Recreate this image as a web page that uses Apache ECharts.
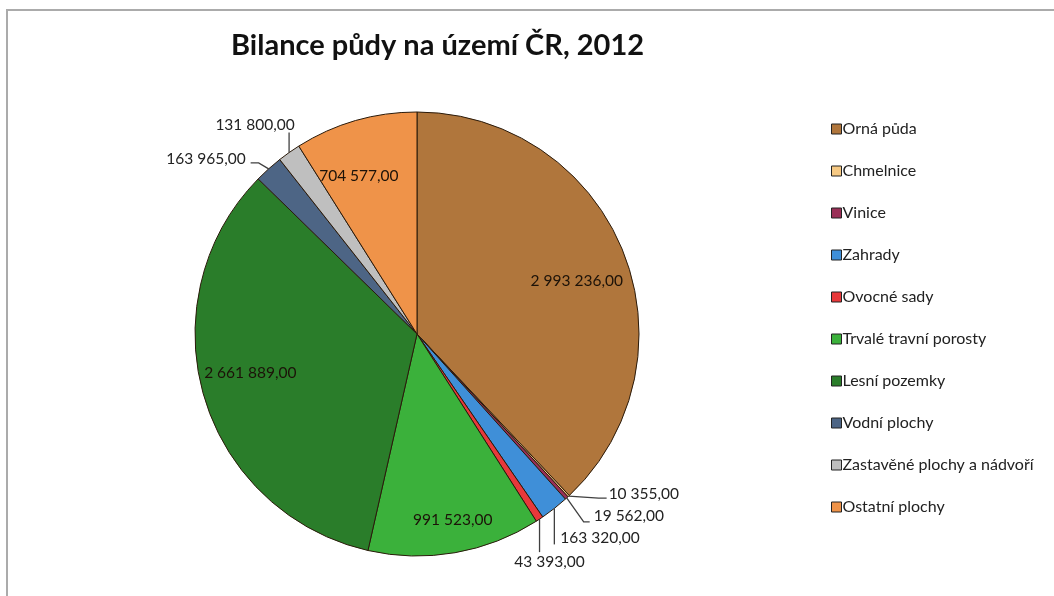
<!DOCTYPE html>
<html>
<head>
<meta charset="utf-8">
<script src="https://cdn.jsdelivr.net/npm/echarts@6/dist/echarts.min.js"></script>
<style>
  html, body { margin: 0; padding: 0; background: #fff; }
  #chart { width: 1054px; height: 596px; }
  #frame {
    position: absolute; left: 6px; top: 9px; width: 1100px; height: 640px;
    border-left: 2px solid #ababab; border-top: 2px solid #ababab;
    pointer-events: none;
  }
</style>
</head>
<body>
<div id="chart"></div>
<div id="frame"></div>
<script>
// Bilance půdy na území ČR, 2012 (ha)
const categories = [
  'Orná půda', 'Chmelnice', 'Vinice', 'Zahrady', 'Ovocné sady',
  'Trvalé travní porosty', 'Lesní pozemky', 'Vodní plochy',
  'Zastavěné plochy a nádvoří', 'Ostatní plochy'
];
const values = [2993236, 10355, 19562, 163320, 43393, 991523, 2661889, 163965, 131800, 704577];
const colors = ['#b0763c', '#f6c983', '#9a2f57', '#3f8fd8', '#e8383a', '#3bb13b', '#2a7d2a', '#4d6585', '#bfbfbf', '#ef9349'];

const CX = 417, CY = 334, R = 222;

// label placement, Excel style
// inside: [radius ratio, dx, dy]
const insideSpots = {
  0: [0.75, 5, 8],
  5: [0.86, 3, -2],
  6: [0.75, -7, -8],
  9: [0.75, -12, 2]
};
// outside: leader line bends (offsets from slice edge), label anchor offset, align
const outsideSpots = {
  1: { line: [[30, 2], [38, 2]], label: [40, -2], align: 'left' },
  2: { line: [[17, 24], [23, 24]], label: [27, 18], align: 'left' },
  3: { line: [[0, 36]], label: [6, 30], align: 'left' },
  4: { line: [[0, 33]], label: [10, 43], align: 'center' },
  7: { line: [[-10, -6], [-18, -6]], label: [-23, -10], align: 'right' },
  8: { line: [[0, -20]], label: [-34, -28], align: 'center' }
};

const total = values.reduce((a, b) => a + b, 0);
const midAngles = [];
let acc = 0;
values.forEach(v => {
  midAngles.push((acc + v / 2) / total * 2 * Math.PI);
  acc += v;
});
const pointAt = (i, ratio) => [
  CX + R * ratio * Math.sin(midAngles[i]),
  CY - R * ratio * Math.cos(midAngles[i])
];

const fmt = v => {
  const s = String(Math.round(v));
  return s.replace(/\B(?=(\d{3})+(?!\d))/g, '\u00a0') + ',00';
};

const chart = echarts.init(document.getElementById('chart'));

chart.setOption({
  animation: false,
  title: {
    text: 'Bilance půdy na území ČR, 2012',
    left: 226,
    top: 26,
    textStyle: { fontFamily: 'Lato', fontWeight: 'bold', fontSize: 29, color: '#111' }
  },
  legend: {
    orient: 'vertical',
    left: 826,
    top: 116,
    itemWidth: 10,
    itemHeight: 10,
    itemGap: 26,
    icon: 'rect',
    itemStyle: { borderColor: '#222', borderWidth: 1 },
    textStyle: { fontFamily: 'Lato', fontSize: 16, lineHeight: 16, color: '#222', padding: [0, 0, 0, -4] },
    data: categories
  },
  series: [{
    type: 'pie',
    center: [CX, CY],
    radius: R,
    startAngle: 90,
    clockwise: true,
    avoidLabelOverlap: false,
    itemStyle: { borderColor: '#2a1a0a', borderWidth: 1 },
    label: {
      position: 'outside',
      fontFamily: 'Lato',
      fontSize: 15.5,
      color: '#222',
      formatter: p => fmt(p.value)
    },
    labelLine: { show: true, length: 10, length2: 6, lineStyle: { color: '#404040', width: 1.3 } },
    labelLayout: p => {
      const i = p.dataIndex;
      if (insideSpots[i]) {
        const s = insideSpots[i];
        const pt = pointAt(i, s[0]);
        return { x: pt[0] + s[1], y: pt[1] + s[2], align: 'center', verticalAlign: 'middle' };
      }
      const o = outsideSpots[i];
      if (!o) return {};
      const e = pointAt(i, 1);
      const pts = [e].concat(o.line.map(d => [e[0] + d[0], e[1] + d[1]]));
      return {
        x: e[0] + o.label[0],
        y: e[1] + o.label[1],
        align: o.align,
        verticalAlign: 'middle',
        labelLinePoints: pts
      };
    },
    emphasis: { disabled: true },
    data: categories.map((name, i) => ({
      name,
      value: values[i],
      itemStyle: { color: colors[i] },
      label: insideSpots[i] ? { position: 'inside', color: '#1c1208' } : undefined,
      labelLine: insideSpots[i] ? { show: false } : undefined
    }))
  }]
});
</script>
</body>
</html>
